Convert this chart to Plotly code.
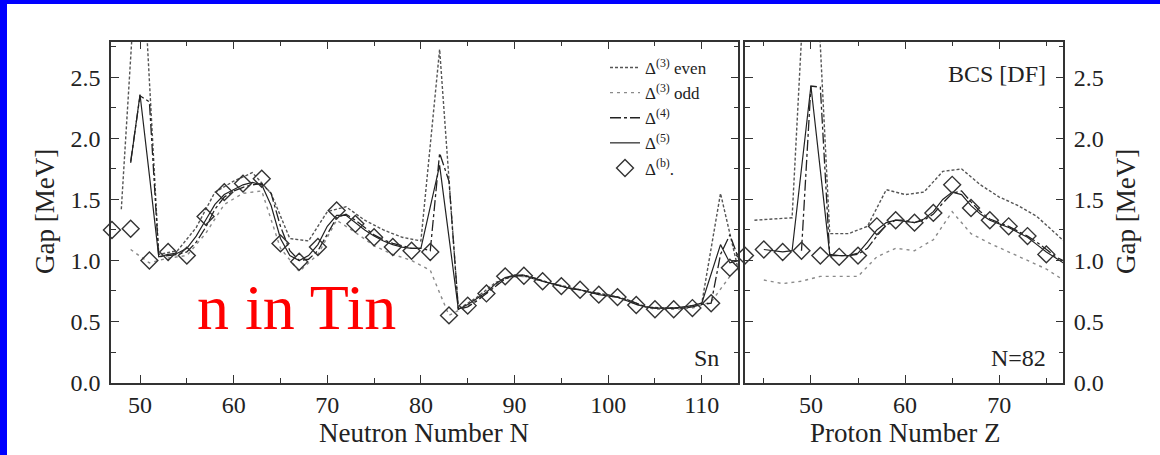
import plotly.graph_objects as go

W, H = 1160, 455

# ---------------- data: left panel (Sn, neutron number N) ----------------
n_diamond = [47, 49, 51, 53, 55, 57, 59, 61, 63, 65, 67, 69, 71, 73, 75, 77, 79, 81,
             83, 85, 87, 89, 91, 93, 95, 97, 99, 101, 103, 105, 107, 109, 111, 113]
gap_b_n = [1.25, 1.26, 1.00, 1.07, 1.04, 1.36, 1.56, 1.63, 1.67, 1.14, 0.99, 1.11, 1.41, 1.30,
           1.19, 1.11, 1.08, 1.07, 0.55, 0.63, 0.73, 0.87, 0.875, 0.83, 0.79, 0.76, 0.72, 0.70,
           0.635, 0.60, 0.60, 0.61, 0.65, 0.94]

n_all = [49, 50, 51, 52, 53, 54, 55, 56, 57, 58, 59, 60, 61, 62, 63, 64, 65, 66, 67, 68, 69,
         70, 71, 72, 73, 74, 75, 76, 77, 78, 79, 80, 81, 82, 83, 84, 85, 86, 87, 88, 89, 90,
         91, 92, 93, 94, 95, 96, 97, 98, 99, 100, 101, 102, 103, 104, 105, 106, 107, 108, 109,
         110, 111, 112, 113, 114]
gap5_n = [1.80, 2.36, 1.70, 1.03, 1.05, 1.06, 1.10, 1.20, 1.33, 1.46, 1.54, 1.58, 1.62, 1.64,
          1.62, 1.45, 1.18, 1.04, 1.00, 1.04, 1.13, 1.28, 1.37, 1.37, 1.31, 1.25, 1.20, 1.16,
          1.13, 1.11, 1.10, 1.10, 1.44, 1.78, 1.19, 0.60, 0.64, 0.69, 0.74, 0.81, 0.86, 0.88,
          0.88, 0.85, 0.83, 0.81, 0.79, 0.77, 0.76, 0.74, 0.72, 0.71, 0.70, 0.67, 0.64, 0.62,
          0.61, 0.61, 0.61, 0.62, 0.63, 0.65, 0.89, 1.13, 0.98, 1.00]
gap4_n = [1.81, 2.35, 2.30, 1.03, 1.04, 1.05, 1.07, 1.15, 1.27, 1.42, 1.52, 1.57, 1.60, 1.62,
          1.63, 1.55, 1.28, 1.08, 1.00, 1.01, 1.08, 1.22, 1.35, 1.38, 1.33, 1.27, 1.21, 1.17,
          1.14, 1.12, 1.10, 1.10, 1.08, 1.88, 1.65, 0.60, 0.62, 0.67, 0.73, 0.79, 0.85, 0.87,
          0.88, 0.86, 0.83, 0.81, 0.79, 0.77, 0.76, 0.74, 0.73, 0.71, 0.70, 0.68, 0.65, 0.62,
          0.61, 0.61, 0.61, 0.61, 0.62, 0.64, 0.65, 1.05, 1.21, 1.00]

n_even = [48, 50, 52, 54, 56, 58, 60, 62, 64, 66, 68, 70, 72, 74, 76, 78, 80, 82, 84, 86, 88,
          90, 92, 94, 96, 98, 100, 102, 104, 106, 108, 110, 112, 114]
gap3e_n = [1.42, 3.90, 1.05, 1.08, 1.27, 1.56, 1.65, 1.72, 1.55, 1.18, 1.16, 1.40, 1.44, 1.33,
           1.25, 1.19, 1.16, 2.73, 0.60, 0.70, 0.82, 0.88, 0.86, 0.81, 0.78, 0.74, 0.72, 0.68,
           0.62, 0.61, 0.61, 0.65, 1.55, 0.89]
n_odd = [49, 51, 53, 55, 57, 59, 61, 63, 65, 67, 69, 71, 73, 75, 77, 79, 81, 83, 85, 87, 89,
         91, 93, 95, 97, 99, 101, 103, 105, 107, 109, 111, 113]
gap3o_n = [1.09, 0.98, 1.02, 1.04, 1.22, 1.46, 1.55, 1.57, 1.10, 0.91, 1.05, 1.33, 1.23, 1.12,
           1.05, 1.00, 0.92, 0.55, 0.63, 0.73, 0.86, 0.87, 0.83, 0.79, 0.76, 0.72, 0.70, 0.64,
           0.60, 0.60, 0.61, 0.66, 0.87]

# ---------------- data: right panel (N=82, proton number Z) ----------------
z_diamond = [43, 45, 47, 49, 51, 53, 55, 57, 59, 61, 63, 65, 67, 69, 71, 73, 75, 77]
gap_b_z = [1.04, 1.09, 1.07, 1.08, 1.04, 1.03, 1.04, 1.28, 1.33, 1.31, 1.39, 1.62, 1.43, 1.33,
           1.28, 1.20, 1.05, 0.94]
z_5 = [45, 46, 47, 48, 49, 50, 51, 52, 53, 54, 55, 56, 57, 58, 59, 60, 61, 62, 63, 64, 65, 66,
       67, 68, 69, 70, 71, 72, 73, 74, 75, 76, 77]
gap5_z = [1.09, 1.08, 1.07, 1.08, 1.75, 2.43, 1.74, 1.05, 1.04, 1.04, 1.06, 1.15, 1.25, 1.31,
          1.33, 1.32, 1.31, 1.34, 1.40, 1.50, 1.56, 1.54, 1.45, 1.38, 1.33, 1.30, 1.27, 1.23,
          1.19, 1.13, 1.07, 1.02, 0.97]
z_4 = [49, 50, 51, 52, 53, 54, 55, 56, 57, 58, 59, 60, 61, 62, 63, 64, 65, 66, 67, 68, 69, 70,
       71, 72, 73, 74, 75, 76, 77]
gap4_z = [1.08, 2.43, 2.42, 1.04, 1.04, 1.04, 1.05, 1.10, 1.20, 1.29, 1.33, 1.33, 1.31, 1.33,
          1.38, 1.47, 1.55, 1.57, 1.48, 1.40, 1.34, 1.31, 1.28, 1.24, 1.20, 1.15, 1.09, 1.03, 0.99]
z_even = [44, 46, 48, 50, 52, 54, 56, 58, 60, 62, 64, 66, 68, 70, 72, 74, 76, 78]
gap3e_z = [1.33, 1.34, 1.35, 4.30, 1.22, 1.22, 1.28, 1.58, 1.54, 1.56, 1.73, 1.75, 1.62, 1.52,
           1.45, 1.36, 1.22, 1.08]
z_odd = [45, 47, 49, 51, 53, 55, 57, 59, 61, 63, 65, 67, 69, 71, 73, 75, 77]
gap3o_z = [0.84, 0.81, 0.83, 0.87, 0.87, 0.87, 1.03, 1.10, 1.08, 1.17, 1.40, 1.22, 1.14, 1.07,
           1.00, 0.93, 0.83]

legend_names = ["Δ<sup>(3)</sup> even", "Δ<sup>(3)</sup> odd", "Δ<sup>(4)</sup>",
                "Δ<sup>(5)</sup>", "Δ<sup>(b)</sup>."]

# ---------------- styling ----------------
SERIF = "Liberation Serif"
TXT = "#222222"
st_3e = dict(color="#555555", width=1.4, dash="3px,2px")
st_3o = dict(color="#8a8a8a", width=1.4, dash="3px,4px")
st_4 = dict(color="#222222", width=1.3, dash="11px,3px,3px,3px")
st_5 = dict(color="#222222", width=1.2)
mk_b = dict(symbol="diamond-open", size=13, color="#333333", line=dict(width=1.4, color="#333333"))

fig = go.Figure()


def add_panel(xa, ya, xe, ye, xo, yo, x4, y4, x5, y5, xb, yb, show):
    fig.add_trace(go.Scatter(x=xe, y=ye, mode="lines", line=st_3e, xaxis=xa, yaxis=ya,
                             name=legend_names[0], showlegend=show))
    fig.add_trace(go.Scatter(x=xo, y=yo, mode="lines", line=st_3o, xaxis=xa, yaxis=ya,
                             name=legend_names[1], showlegend=show))
    fig.add_trace(go.Scatter(x=x4, y=y4, mode="lines", line=st_4, xaxis=xa, yaxis=ya,
                             name=legend_names[2], showlegend=show))
    fig.add_trace(go.Scatter(x=x5, y=y5, mode="lines", line=st_5, xaxis=xa, yaxis=ya,
                             name=legend_names[3], showlegend=show))
    fig.add_trace(go.Scatter(x=xb, y=yb, mode="markers", marker=mk_b, xaxis=xa, yaxis=ya,
                             name=legend_names[4], showlegend=show, cliponaxis=False))


add_panel("x", "y", n_even, gap3e_n, n_odd, gap3o_n, n_all, gap4_n, n_all, gap5_n,
          n_diamond, gap_b_n, True)
add_panel("x2", "y2", z_even, gap3e_z, z_odd, gap3o_z, z_4, gap4_z, z_5, gap5_z,
          z_diamond, gap_b_z, False)


def px_x(p):
    return p / W


def px_y(p):
    return 1 - p / H


ydom = [px_y(382.5), px_y(41.7)]
common_axis = dict(showline=True, linewidth=1.5, linecolor="#333333", mirror="allticks",
                   ticks="inside", ticklen=8, tickwidth=1.3, tickcolor="#333333",
                   showgrid=False, zeroline=False, automargin=False,
                   tickfont=dict(family=SERIF, size=24, color=TXT))
minor_common = dict(ticks="inside", ticklen=5, tickwidth=1.2, tickcolor="#333333")

fig.update_layout(
    width=W, height=H, autosize=False,
    margin=dict(l=0, r=0, t=0, b=0, pad=0, autoexpand=False),
    paper_bgcolor="white", plot_bgcolor="white",
    xaxis=dict(domain=[px_x(111), px_x(738.3)], range=[46.9, 113.9], anchor="y",
               dtick=10, tick0=0, minor=dict(dtick=5, tick0=0, **minor_common),
               ticklabelstandoff=0, **common_axis),
    yaxis=dict(domain=ydom, range=[0, 2.793], anchor="x", dtick=0.5, tickformat=".1f",
               minor=dict(dtick=0.25, **minor_common),
               ticklabelstandoff=4, **common_axis),
    xaxis2=dict(domain=[px_x(745), px_x(1063.3)], range=[43.0, 76.8], anchor="y2",
                dtick=10, tick0=0, minor=dict(dtick=5, tick0=0, **minor_common),
                ticklabelstandoff=0, **common_axis),
    yaxis2=dict(domain=ydom, range=[0, 2.793], anchor="x2", side="right", dtick=0.5,
                tickformat=".1f", minor=dict(dtick=0.25, **minor_common),
                ticklabelstandoff=4, **common_axis),
    legend=dict(x=px_x(605), y=px_y(50), xanchor="left", yanchor="top",
                bgcolor="rgba(0,0,0,0)", font=dict(family=SERIF, size=17, color=TXT),
                tracegroupgap=0),
    showlegend=True,
)

annos = [
    dict(text="Gap [MeV]", x=px_x(45), y=px_y(212), textangle=-90, size=27),
    dict(text="Gap [MeV]", x=px_x(1126), y=px_y(212), textangle=-90, size=27),
    dict(text="Neutron Number N", x=px_x(424), y=px_y(433), textangle=0, size=27),
    dict(text="Proton Number Z", x=px_x(905), y=px_y(433), textangle=0, size=27),
]
for a in annos:
    fig.add_annotation(text=a["text"], x=a["x"], y=a["y"], xref="paper", yref="paper",
                       showarrow=False, textangle=a["textangle"], xanchor="center",
                       yanchor="middle", font=dict(family=SERIF, size=a["size"], color=TXT))

fig.add_annotation(text="Sn", x=px_x(721), y=px_y(358), xref="paper", yref="paper",
                   xanchor="right", yanchor="middle", showarrow=False,
                   font=dict(family=SERIF, size=24, color=TXT))
fig.add_annotation(text="BCS [DF]", x=px_x(1048), y=px_y(74), xref="paper", yref="paper",
                   xanchor="right", yanchor="middle", showarrow=False,
                   font=dict(family=SERIF, size=24, color=TXT))
fig.add_annotation(text="N=82", x=px_x(1048), y=px_y(358), xref="paper", yref="paper",
                   xanchor="right", yanchor="middle", showarrow=False,
                   font=dict(family=SERIF, size=24, color=TXT))
fig.add_annotation(text="n in Tin", x=px_x(195), y=px_y(307), xref="paper", yref="paper",
                   xanchor="left", yanchor="middle", showarrow=False,
                   font=dict(family=SERIF, size=64, color="#ff0000"))

# blue frame at top and left edge of the slide
fig.add_shape(type="rect", xref="paper", yref="paper", x0=0, x1=px_x(7), y0=0, y1=1,
              fillcolor="#0000ff", line=dict(width=0), layer="above")
fig.add_shape(type="rect", xref="paper", yref="paper", x0=0, x1=1, y0=px_y(4), y1=1,
              fillcolor="#0000ff", line=dict(width=0), layer="above")

post = (
    "var s=document.createElement('style');"
    "s.innerHTML='html,body{margin:0;padding:0;overflow:hidden;}"
    ".plotly-graph-div{position:absolute;top:0;left:0;}';"
    "document.head.appendChild(s);"
)
fig.write_html("out.html", config={"displayModeBar": False, "responsive": False},
               post_script=post)
